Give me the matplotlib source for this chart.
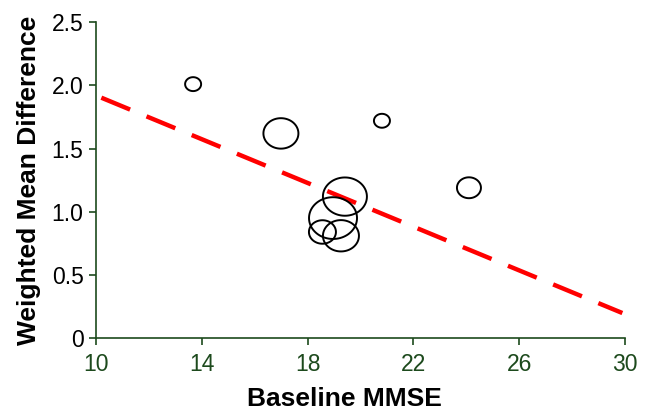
import matplotlib.pyplot as plt
from matplotlib.path import Path
import numpy as np

# study data: baseline MMSE, weighted mean difference, marker size (study weight)
mmse = [13.67, 16.99, 20.81, 24.10, 19.41, 18.96, 18.56, 19.26]
wmd = [2.01, 1.62, 1.72, 1.19, 1.12, 0.95, 0.84, 0.81]
weight = [16, 35, 16, 24, 44, 48, 27, 36]

# meta-regression line
fit_intercept = 2.785
fit_slope = -0.0865
fit_range = [10.2, 29.9]

xticks = [10, 14, 18, 22, 26, 30]
yticks = [0, 0.5, 1.0, 1.5, 2.0, 2.5]
ytick_labels = ['0', '0.5', '1.0', '1.5', '2.0', '2.5']

GREEN = '#1d4a1d'

plt.rcParams['font.family'] = ['Liberation Sans', 'DejaVu Sans']

fig = plt.figure(figsize=(6.49, 4.19), dpi=100)
ax = fig.add_axes([0.148, 0.193, 0.815, 0.754])

# slightly squashed circle marker
t = np.linspace(0, 2 * np.pi, 80)
ell = Path(np.column_stack([np.cos(t), 0.87 * np.sin(t)]), closed=True)

sizes = [(w * 0.72) ** 2 for w in weight]
ax.scatter(mmse, wmd, s=sizes, marker=ell, facecolors='none',
           edgecolors='black', linewidths=1.4, zorder=3)

xs = np.array(fit_range)
ax.plot(xs, fit_intercept + fit_slope * xs, color='#ff0000', lw=3.2,
        dashes=(7, 4), zorder=2)

ax.set_xlim(10, 30)
ax.set_ylim(0, 2.5)
ax.set_xticks(xticks)
ax.set_yticks(yticks)
ax.set_yticklabels(ytick_labels)

for s in ['top', 'right']:
    ax.spines[s].set_visible(False)
for s in ['left', 'bottom']:
    ax.spines[s].set_color(GREEN)
    ax.spines[s].set_linewidth(1.2)

ax.tick_params(axis='both', direction='out', length=5, width=1.2, color=GREEN, labelsize=16.5)
ax.tick_params(axis='x', labelcolor=GREEN, pad=6)
ax.tick_params(axis='y', labelcolor='black', pad=4)

ax.set_xlabel('Baseline MMSE', fontsize=19, fontweight='bold')
ax.xaxis.set_label_coords(0.47, -0.155)
ax.set_ylabel('Weighted Mean Difference', fontsize=19, fontweight='bold', labelpad=8)

fig.savefig('out.png', dpi=100)
